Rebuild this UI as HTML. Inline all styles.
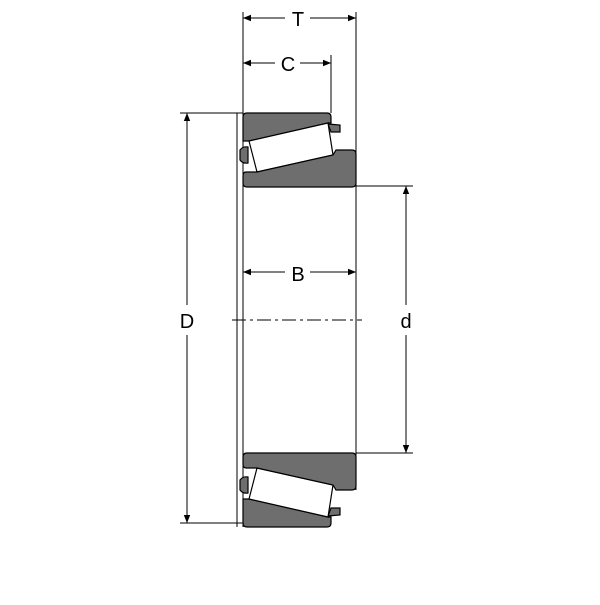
<!DOCTYPE html>
<html><head><style>body{margin:0;background:#fff}</style></head><body>
<svg width="600" height="600" viewBox="0 0 600 600" xmlns="http://www.w3.org/2000/svg">
<defs>
<marker id="a" viewBox="0 0 10 10" refX="10" refY="5" markerWidth="8" markerHeight="8" orient="auto-start-reverse"><path d="M0,1 L10,5 L0,9z" fill="#000"/></marker>
<g id="half" stroke="#000" stroke-width="1.2">
<path d="M247,113 H327 Q331,113 331,117 V123 L328,123 L249,141 L245,141 L243,141 V117 Q243,113 247,113Z" fill="#6e6e6e"/>
<path d="M240,150 Q243,146 248,147 V163 Q243,164 240,160Z" fill="#6e6e6e"/>
<path d="M328,124 L340,125 V132 L331,132Z" fill="#6e6e6e"/>
<path d="M249,141 L328,123 L333,155 L257,172Z" fill="#fff"/>
<path d="M246,172 L257,172 L333,155 L336,150 H352 Q356,150 356,154 V183 Q356,187 352,187 H247 Q243,187 243,183 V176 Q243,172 246,172Z" fill="#6e6e6e"/>
</g>
</defs>
<g fill="none" stroke="#000" stroke-width="1">
<line x1="237" y1="113" x2="237" y2="527"/>
<line x1="243" y1="113" x2="243" y2="527"/>
<line x1="356" y1="150" x2="356" y2="490"/>
<line x1="243" y1="12" x2="243" y2="113"/>
<line x1="356" y1="12" x2="356" y2="150"/>
<line x1="331" y1="55" x2="331" y2="113"/>
<line x1="180" y1="113" x2="243" y2="113"/>
<line x1="180" y1="523" x2="243" y2="523"/>
<line x1="356" y1="186" x2="413" y2="186"/>
<line x1="356" y1="453" x2="413" y2="453"/>
<line x1="232" y1="320" x2="362" y2="320" stroke-dasharray="14,4,3,4"/>
<line x1="243" y1="18" x2="285" y2="18" marker-start="url(#a)"/>
<line x1="310" y1="18" x2="356" y2="18" marker-end="url(#a)"/>
<line x1="243" y1="63" x2="275" y2="63" marker-start="url(#a)"/>
<line x1="300" y1="63" x2="331" y2="63" marker-end="url(#a)"/>
<line x1="243" y1="272" x2="285" y2="272" marker-start="url(#a)"/>
<line x1="310" y1="272" x2="356" y2="272" marker-end="url(#a)"/>
<line x1="187" y1="113" x2="187" y2="305" marker-start="url(#a)"/>
<line x1="187" y1="335" x2="187" y2="523" marker-end="url(#a)"/>
<line x1="406" y1="186" x2="406" y2="305" marker-start="url(#a)"/>
<line x1="406" y1="335" x2="406" y2="453" marker-end="url(#a)"/>
</g>
<use href="#half"/>
<use href="#half" transform="translate(0,640) scale(1,-1)"/>
<g font-family="Liberation Sans, sans-serif" font-size="20" text-anchor="middle">
<text x="298" y="26">T</text>
<text x="288" y="71">C</text>
<text x="298" y="281">B</text>
<text x="187" y="328">D</text>
<text x="406" y="328">d</text>
</g>
</svg>
</body></html>
